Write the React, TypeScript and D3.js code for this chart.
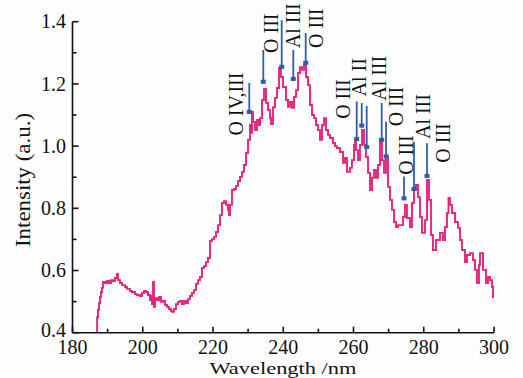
import React from "react";
import * as d3 from "d3";

const wavelength = [
  187.0, 187.0, 187.26, 187.54, 187.83, 188.11, 188.4, 188.68, 189.25, 189.82, 190.39, 190.96, 191.53, 192.1, 192.67, 192.95,
  193.52, 194.09, 194.95, 195.52, 196.37, 196.94, 197.79, 198.36, 199.22, 199.79, 200.36, 200.93, 201.49, 202.06, 202.35,
  202.63, 202.92, 203.2, 203.49, 204.06, 204.63, 205.2, 205.77, 206.34, 206.91, 207.47, 208.04, 208.33, 208.9, 209.47,
  210.04, 210.61, 211.17, 211.74, 212.31, 212.88, 213.45, 214.02, 214.59, 215.16, 215.73, 216.3, 216.86, 217.43, 218.0,
  218.57, 219.14, 219.71, 220.28, 220.85, 221.42, 221.99, 222.56, 223.13, 223.7, 224.27, 224.56, 224.84, 225.41, 225.98,
  226.55, 227.12, 227.69, 228.26, 228.83, 229.4, 229.97, 230.53, 230.82, 231.1, 231.39, 231.96, 232.53, 233.1, 233.39,
  233.95, 234.52, 235.09, 235.66, 236.23, 236.52, 237.08, 237.65, 238.22, 238.79, 239.36, 239.93, 240.78, 241.35, 241.92,
  242.49, 243.06, 243.63, 244.2, 244.77, 245.34, 245.91, 246.48, 247.05, 247.62, 248.19, 248.75, 249.32, 249.89, 250.46,
  251.03, 251.6, 252.17, 252.74, 253.31, 254.16, 254.73, 255.3, 256.16, 257.01, 257.58, 258.15, 259.0, 259.57, 260.14,
  260.43, 260.71, 261.28, 261.85, 262.42, 262.99, 263.56, 264.13, 264.7, 265.27, 265.84, 266.41, 266.97, 267.54, 268.11,
  268.68, 269.25, 269.82, 270.39, 270.96, 271.53, 272.1, 272.67, 273.24, 274.09, 274.66, 275.23, 276.08, 276.65, 277.22,
  277.79, 278.36, 278.93, 279.5, 280.36, 280.93, 281.49, 282.06, 282.63, 283.49, 284.63, 285.48, 286.05, 286.62, 287.05,
  287.47, 288.04, 288.9, 289.75, 290.32, 290.89, 291.74, 292.31, 293.17, 294.02, 294.59, 295.16, 295.73, 296.01, 296.87,
  297.72, 298.29, 298.86, 299.43, 299.72,
];
const intensity = [
  0.4, 0.45, 0.473, 0.495, 0.515, 0.531, 0.544, 0.563, 0.56, 0.566, 0.56, 0.569, 0.566, 0.576, 0.589, 0.569,
  0.56, 0.553, 0.547, 0.541, 0.534, 0.531, 0.524, 0.521, 0.518, 0.528, 0.534, 0.531, 0.521, 0.505, 0.518,
  0.492, 0.563, 0.483, 0.511, 0.505, 0.515, 0.499, 0.502, 0.489, 0.483, 0.476, 0.47, 0.467, 0.476, 0.492,
  0.499, 0.502, 0.492, 0.502, 0.495, 0.508, 0.518, 0.528, 0.537, 0.557, 0.569, 0.579, 0.608, 0.614, 0.627,
  0.64, 0.695, 0.701, 0.708, 0.724, 0.746, 0.778, 0.817, 0.823, 0.811, 0.795, 0.778, 0.811, 0.859, 0.862,
  0.872, 0.888, 0.901, 0.917, 0.939, 0.978, 1.02, 1.068, 1.043, 1.11, 1.078, 1.052, 1.084, 1.068, 1.09,
  1.148, 1.184, 1.139, 1.116, 1.09, 1.071, 1.125, 1.155, 1.187, 1.251, 1.222, 1.19, 1.148, 1.126, 1.142,
  1.123, 1.158, 1.18, 1.235, 1.254, 1.245, 1.261, 1.222, 1.196, 1.132, 1.1, 1.09, 1.068, 1.052, 1.02,
  1.068, 1.09, 1.052, 1.036, 1.026, 1.01, 1.0, 0.994, 0.981, 0.946, 0.962, 0.917, 0.93, 0.955, 1.004,
  1.02, 0.987, 0.955, 1.004, 1.052, 1.004, 0.965, 0.914, 0.859, 0.898, 0.923, 0.898, 0.939, 1.02, 0.955,
  0.914, 0.965, 0.869, 0.827, 0.795, 0.756, 0.74, 0.746, 0.746, 0.772, 0.811, 0.769, 0.74, 0.817, 0.859,
  0.875, 0.836, 0.772, 0.721, 0.762, 0.891, 0.827, 0.714, 0.666, 0.698, 0.721, 0.698, 0.74, 0.785, 0.833,
  0.811, 0.785, 0.756, 0.737, 0.698, 0.666, 0.627, 0.65, 0.656, 0.634, 0.602, 0.56, 0.618, 0.656, 0.602,
  0.56, 0.579, 0.569, 0.547, 0.511,
];

// annotation arrows: wavelength, top intensity, tip intensity
const arrowWl = [230.33, 234.32, 239.56, 242.86, 246.39, 260.91, 262.34, 263.76, 268.03, 269.27, 274.38, 277.22, 280.93];
const arrowTop = [1.203, 1.309, 1.405, 1.309, 1.364, 1.143, 1.139, 1.129, 1.139, 1.078, 0.902, 1.014, 1.009];
const arrowTip = [1.11, 1.207, 1.255, 1.216, 1.268, 1.023, 1.066, 0.997, 1.02, 0.967, 0.832, 0.862, 0.904];

// annotation labels
const labelText = ["O IV,III", "O III", "Al III", "O III", "O III", "Al II", "Al III", "O III", "O III", "Al III", "O III"];
const labelWl = [228.4, 238.37, 244.63, 251.32, 259.0, 263.7, 269.25, 274.09, 276.94, 281.78, 287.47];
const labelI = [1.135, 1.363, 1.387, 1.379, 1.151, 1.221, 1.218, 1.127, 0.971, 1.095, 1.01];

const xTicks = [180, 200, 220, 240, 260, 280, 300];
const xMinor = [190, 210, 230, 250, 270, 290];
const yTicks = [0.4, 0.6, 0.8, 1.0, 1.2, 1.4];
const yMinor = [0.5, 0.7, 0.9, 1.1, 1.3];

const FONT = '"Liberation Serif", "Times New Roman", serif';
const PINK = "#e8237c";
const BLUE = "#2f5dab";

export default function App() {
  const x = d3.scaleLinear().domain([180, 300]).range([72.5, 494]);
  const y = d3.scaleLinear().domain([0.4, 1.4]).range([332.7, 21.7]);
  const pts: [number, number][] = wavelength.map((w, i) => [w, intensity[i]]);
  const line = d3
    .line<[number, number]>()
    .x((d) => x(d[0]))
    .y((d) => y(d[1]))
    .curve(d3.curveStepAfter);

  const x0 = x(180);
  const y0 = y(0.4);

  return (
    <div style={{ position: "absolute", left: 0, top: 0 }}>
      <svg width={523} height={378} style={{ display: "block", background: "#fdfdfd" }} fontFamily={FONT}>
        <path d={line(pts) || ""} fill="none" stroke={PINK} strokeWidth={1.9} strokeLinejoin="miter" />

        {arrowWl.map((w, i) => (
          <g key={"a" + i}>
            <line x1={x(w)} x2={x(w)} y1={y(arrowTop[i])} y2={y(arrowTip[i]) + 2} stroke={BLUE} strokeWidth={1.8} />
            <rect x={x(w) - 2.5} y={y(arrowTip[i]) - 2} width={5} height={4} fill={BLUE} />
          </g>
        ))}

        {labelText.map((t, i) => (
          <text
            key={"l" + i}
            transform={`translate(${x(labelWl[i])},${y(labelI[i])}) rotate(-90)`}
            textAnchor="middle"
            fontSize={20}
            fill="#111"
          >
            {t}
          </text>
        ))}

        {/* axes */}
        <line x1={x0} x2={x(300)} y1={y0} y2={y0} stroke="#111" strokeWidth={1.6} />
        <line x1={x0} x2={x0} y1={y0} y2={y(1.4)} stroke="#111" strokeWidth={1.6} />
        {xTicks.map((t) => (
          <g key={"xt" + t}>
            <line x1={x(t)} x2={x(t)} y1={y0} y2={y0 - 6} stroke="#111" strokeWidth={1.6} />
            <text x={x(t)} y={354} textAnchor="middle" fontSize={20} fill="#111">
              {t}
            </text>
          </g>
        ))}
        {xMinor.map((t) => (
          <line key={"xm" + t} x1={x(t)} x2={x(t)} y1={y0} y2={y0 - 4} stroke="#111" strokeWidth={1.6} />
        ))}
        {yTicks.map((t) => (
          <g key={"yt" + t}>
            <line x1={x0} x2={x0 + 6} y1={y(t)} y2={y(t)} stroke="#111" strokeWidth={1.6} />
            <text x={66} y={Math.min(y(t) + 6.7, 336.5)} textAnchor="end" fontSize={20} fill="#111">
              {t.toFixed(1)}
            </text>
          </g>
        ))}
        {yMinor.map((t) => (
          <line key={"ym" + t} x1={x0} x2={x0 + 4} y1={y(t)} y2={y(t)} stroke="#111" strokeWidth={1.6} />
        ))}

        <text x={283} y={373.5} textAnchor="middle" fontSize={17} fill="#111" textLength={147} lengthAdjust="spacingAndGlyphs">
          Wavelength /nm
        </text>
        <text
          transform="translate(30,180) rotate(-90)"
          textAnchor="middle"
          fontSize={20}
          fill="#111"
          textLength={134}
          lengthAdjust="spacingAndGlyphs"
        >
          Intensity (a.u.)
        </text>
      </svg>
    </div>
  );
}
